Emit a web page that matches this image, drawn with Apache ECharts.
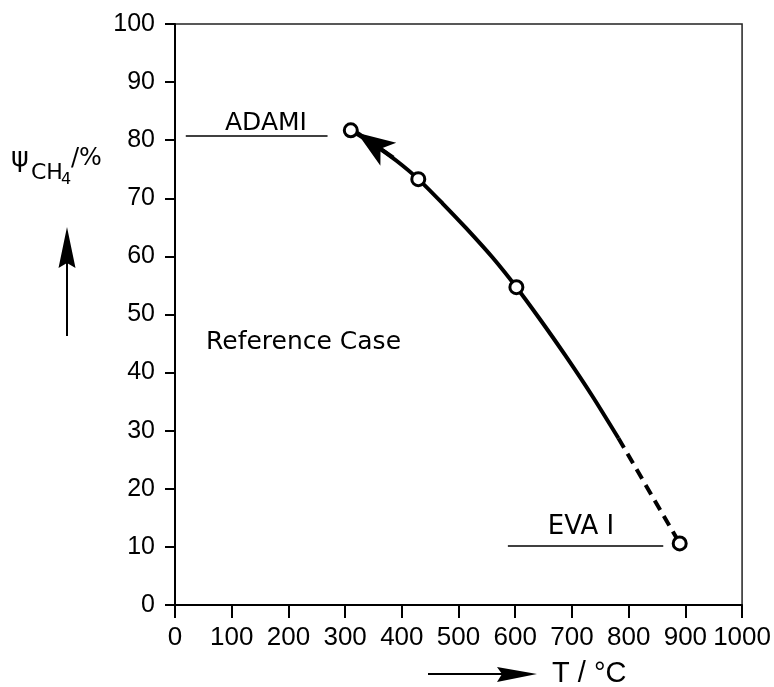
<!DOCTYPE html>
<html>
<head>
<meta charset="utf-8">
<script src="https://cdn.jsdelivr.net/npm/echarts@6/dist/echarts.min.js"></script>
<style>
html,body{margin:0;padding:0;background:#fff;}
#c{width:774px;height:687px;}
</style>
</head>
<body>
<div id="c"></div>
<script>
// ---- data ----
const xTicks = [0, 100, 200, 300, 400, 500, 600, 700, 800, 900, 1000];
const yTicks = [0, 10, 20, 30, 40, 50, 60, 70, 80, 90, 100];
const tempSolid = [310, 350, 390, 429, 472, 513, 560, 602, 642, 688, 735, 782];
const psiSolid = [81.7, 79.3, 76.5, 73.3, 69.1, 64.9, 59.8, 54.7, 49.4, 43.0, 36.1, 28.7];
const tempDashed = [782, 890];
const psiDashed = [28.7, 10.6];
const tempPoints = [310, 429, 602, 890];
const psiPoints = [81.7, 73.3, 54.7, 10.6];
const adamiLine = [[19, 80.7], [269, 80.7]];
const evaLine = [[587, 10.2], [861, 10.2]];
const arrowSeg = [[385, 77.0], [321, 81.3]];

const zip = (a, b) => a.map((v, i) => [v, b[i]]);
const INK = '#000';
const numFont = '"Liberation Sans", Arial, sans-serif';
const txtFont = '"DejaVu Sans", sans-serif';

const chart = echarts.init(document.getElementById('c'), null, {renderer: 'canvas'});
chart.setOption({
  animation: false,
  backgroundColor: '#fff',
  grid: {left: 175, right: 30, top: 24, bottom: 82, show: true, borderColor: '#222', borderWidth: 1.5, backgroundColor: 'transparent'},
  xAxis: {
    type: 'value', min: xTicks[0], max: xTicks[xTicks.length - 1], interval: 100,
    axisLine: {show: true, lineStyle: {color: INK, width: 2}},
    axisTick: {show: true, inside: false, length: 13, lineStyle: {color: INK, width: 2}},
    axisLabel: {color: INK, fontFamily: numFont, fontSize: 26, margin: 20, formatter: v => String(v)},
    splitLine: {show: false}
  },
  yAxis: {
    type: 'value', min: yTicks[0], max: yTicks[yTicks.length - 1], interval: 10,
    axisLine: {show: true, lineStyle: {color: INK, width: 2}},
    axisTick: {show: true, inside: false, length: 10, lineStyle: {color: INK, width: 2}},
    axisLabel: {color: INK, fontFamily: numFont, fontSize: 25, margin: 20, formatter: v => String(v)},
    splitLine: {show: false}
  },
  series: [
    {
      type: 'line', data: zip(tempSolid, psiSolid), smooth: 0.25, showSymbol: false,
      lineStyle: {color: INK, width: 4}, z: 3,
      markLine: {
        silent: true, animation: false,
        symbol: ['none', 'arrow'], symbolSize: [21, 38],
        lineStyle: {color: INK, width: 4, type: 'solid'},
        label: {show: false},
        data: [[{coord: arrowSeg[0]}, {coord: arrowSeg[1]}]]
      }
    },
    {
      type: 'line', data: zip(tempDashed, psiDashed), showSymbol: false,
      lineStyle: {color: INK, width: 4, type: [11, 7]}, z: 3
    },
    {
      type: 'line', data: [], showSymbol: false,
      markLine: {
        silent: true, animation: false, symbol: ['none', 'none'],
        lineStyle: {color: INK, width: 1.5, type: 'solid'},
        label: {show: false},
        data: [
          [{coord: adamiLine[0]}, {coord: adamiLine[1]}],
          [{coord: evaLine[0]}, {coord: evaLine[1]}]
        ]
      }
    },
    {
      type: 'scatter', data: zip(tempPoints, psiPoints), symbol: 'circle', symbolSize: 13,
      itemStyle: {color: '#fff', borderColor: INK, borderWidth: 3, opacity: 1}, z: 5
    }
  ],
  graphic: [
    {type: 'text', x: 11, y: 159, style: {text: 'ψ', font: '27px ' + txtFont, fill: INK, verticalAlign: 'middle'}},
    {type: 'text', x: 31, y: 173, style: {text: 'CH', font: '22px ' + txtFont, fill: INK, verticalAlign: 'middle'}},
    {type: 'text', x: 61, y: 180, style: {text: '4', font: '16px ' + txtFont, fill: INK, verticalAlign: 'middle'}},
    {type: 'text', x: 71, y: 159, style: {text: '/%', font: '24px ' + txtFont, fill: INK, verticalAlign: 'middle'}},
    {type: 'line', shape: {x1: 67, y1: 336, x2: 67, y2: 262}, style: {stroke: INK, lineWidth: 2}},
    {type: 'polygon', shape: {points: [[67, 227], [75.5, 268], [67, 263], [58.5, 268]]}, style: {fill: INK}},
    {type: 'line', shape: {x1: 428, y1: 674, x2: 502, y2: 674}, style: {stroke: INK, lineWidth: 2}},
    {type: 'polygon', shape: {points: [[537, 674], [497, 667], [502, 674], [497, 682]]}, style: {fill: INK}},
    {type: 'text', x: 552, y: 674, style: {text: 'T / °C', font: '29px ' + numFont, fill: INK, verticalAlign: 'middle'}},
    {type: 'text', x: 266, y: 123, style: {text: 'ADAMI', font: '25px ' + txtFont, fill: INK, align: 'center', verticalAlign: 'middle'}},
    {type: 'text', x: 581, y: 527, style: {text: 'EVA I', font: '26px ' + txtFont, fill: INK, align: 'center', verticalAlign: 'middle'}},
    {type: 'text', x: 206, y: 342, style: {text: 'Reference Case', font: '25px ' + txtFont, fill: INK, verticalAlign: 'middle'}}
  ]
});
</script>
</body>
</html>
